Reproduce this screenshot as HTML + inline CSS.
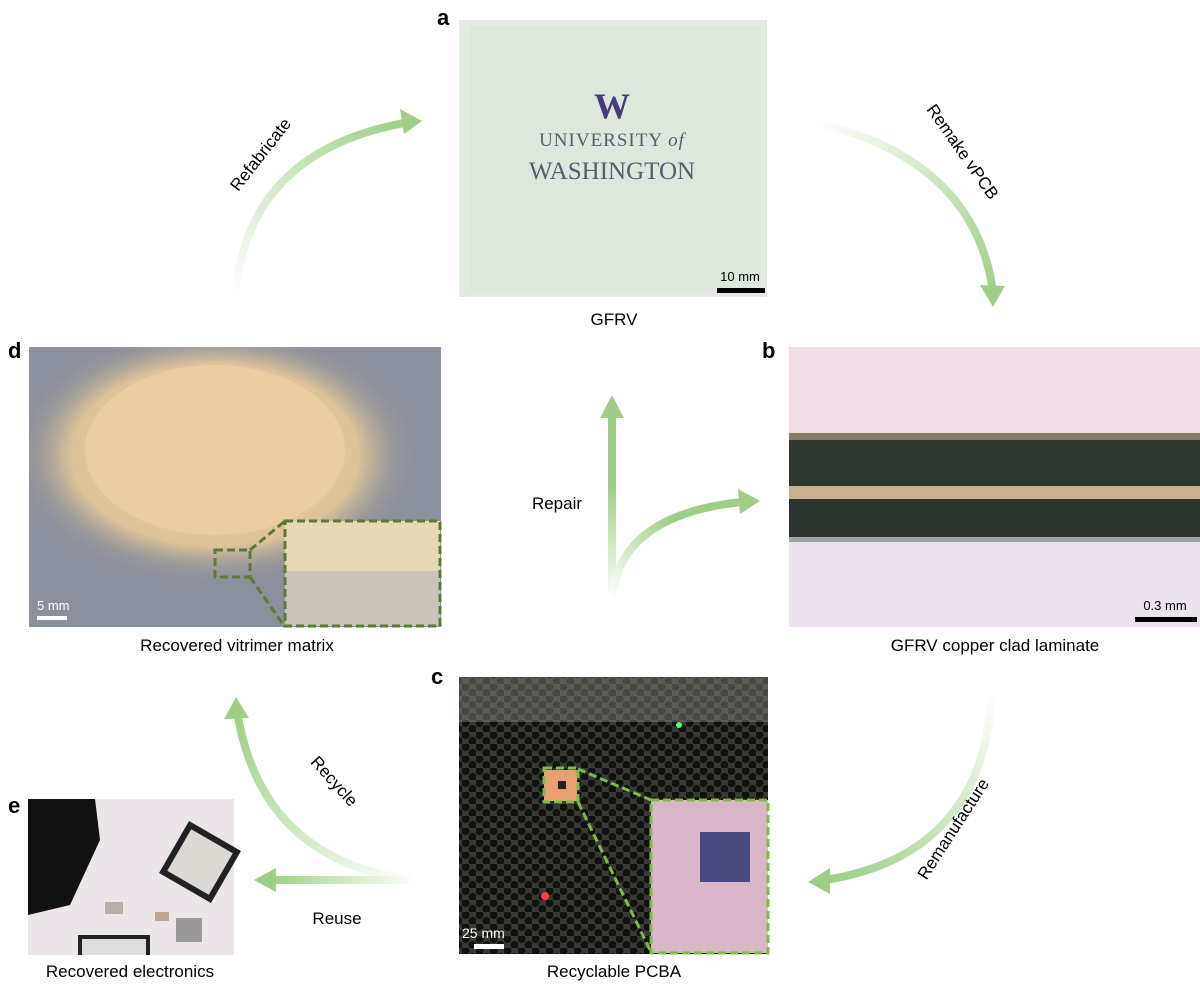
<!DOCTYPE html>
<html><head><meta charset="utf-8"><style>
html,body{margin:0;padding:0;background:#fff;}
svg{display:block;font-family:"Liberation Sans",sans-serif;}
</style></head><body>
<svg width="1200" height="987" viewBox="0 0 1200 987">
<defs>
<linearGradient id="gRef" gradientUnits="userSpaceOnUse" x1="235" y1="300" x2="410" y2="122"><stop offset="0" stop-color="#fff"/><stop offset="1" stop-color="#9fcf86"/></linearGradient>
<linearGradient id="gRem" gradientUnits="userSpaceOnUse" x1="815" y1="122" x2="993" y2="295"><stop offset="0" stop-color="#fff"/><stop offset="1" stop-color="#9fcf86"/></linearGradient>
<linearGradient id="gMan" gradientUnits="userSpaceOnUse" x1="992" y1="690" x2="830" y2="880"><stop offset="0" stop-color="#fff"/><stop offset="1" stop-color="#9fcf86"/></linearGradient>
<linearGradient id="gRec" gradientUnits="userSpaceOnUse" x1="415" y1="880" x2="237" y2="710"><stop offset="0" stop-color="#fff"/><stop offset="1" stop-color="#9fcf86"/></linearGradient>
<linearGradient id="gReu" gradientUnits="userSpaceOnUse" x1="415" y1="880" x2="270" y2="880"><stop offset="0" stop-color="#fff"/><stop offset="1" stop-color="#9fcf86"/></linearGradient>
<linearGradient id="gRep" gradientUnits="userSpaceOnUse" x1="612" y1="600" x2="612" y2="410"><stop offset="0" stop-color="#fff"/><stop offset="0.6" stop-color="#9fcf86"/></linearGradient>
<linearGradient id="gRep2" gradientUnits="userSpaceOnUse" x1="612" y1="600" x2="740" y2="502"><stop offset="0" stop-color="#fff"/><stop offset="0.6" stop-color="#9fcf86"/></linearGradient>
<pattern id="hex" width="14" height="12" patternUnits="userSpaceOnUse"><rect width="14" height="12" fill="#3a3a34"/><circle cx="3.5" cy="3" r="4" fill="#111"/><circle cx="10.5" cy="9" r="4" fill="#111"/></pattern>
<radialGradient id="sand" cx="0.5" cy="0.5" r="0.5"><stop offset="0" stop-color="#f0d6a8"/><stop offset="0.7" stop-color="#dcc498"/><stop offset="1" stop-color="#8a8f9c" stop-opacity="0"/></radialGradient>
<clipPath id="clipD"><rect x="29" y="347" width="412" height="280"/></clipPath>
</defs>

<g><path d="M235,300 Q245,150 410,122" fill="none" stroke="url(#gRef)" stroke-width="8"/><polygon points="422,121 400,109 404,134" fill="#9fcf86"/></g>
<text x="265" y="158" font-size="17" text-anchor="middle" transform="rotate(-52 265 158)">Refabricate</text>
<g><path d="M815,122 Q975,160 993,292" fill="none" stroke="url(#gRem)" stroke-width="8"/><polygon points="993,307 980,285 1005,286" fill="#9fcf86"/></g>
<text x="958" y="155" font-size="17" text-anchor="middle" transform="rotate(55 958 155)">Remake vPCB</text>
<g><path d="M992,690 Q985,855 825,880" fill="none" stroke="url(#gMan)" stroke-width="8"/><polygon points="808,882 830,868 830,894" fill="#9fcf86"/></g>
<text x="958" y="832" font-size="17" text-anchor="middle" transform="rotate(-57 958 832)">Remanufacture</text>
<g><path d="M415,880 Q262,862 237,712" fill="none" stroke="url(#gRec)" stroke-width="8"/><polygon points="236,697 224,719 249,718" fill="#9fcf86"/></g>
<text x="330" y="785" font-size="17" text-anchor="middle" transform="rotate(48 330 785)">Recycle</text>
<g><path d="M415,880 L272,880" fill="none" stroke="url(#gReu)" stroke-width="8"/><polygon points="254,880 276,868 276,892" fill="#9fcf86"/></g>
<text x="337" y="924" font-size="17" text-anchor="middle">Reuse</text>
<g><path d="M612,600 L612,412" fill="none" stroke="url(#gRep)" stroke-width="8"/><polygon points="612,395 600,418 624,418" fill="#9fcf86"/><path d="M612,600 Q618,515 742,502" fill="none" stroke="url(#gRep2)" stroke-width="8"/><polygon points="760,501 738,489 740,514" fill="#9fcf86"/></g>
<text x="557" y="509" font-size="17" text-anchor="middle">Repair</text>

<text x="437" y="25" font-size="22" font-weight="bold">a</text>
<g>
<rect x="459" y="20" width="308" height="277" fill="#e2eae2"/>
<rect x="470" y="26" width="290" height="265" fill="#dde7dc"/>
<text x="612" y="118" font-size="36" font-weight="bold" font-family="Liberation Serif,serif" fill="#4b3a7a" text-anchor="middle">W</text>
<text x="612" y="146" font-size="19" font-family="Liberation Serif,serif" fill="#5a5a70" text-anchor="middle" letter-spacing="1">UNIVERSITY <tspan font-style="italic">of</tspan></text>
<text x="612" y="179" font-size="25" font-family="Liberation Serif,serif" fill="#5a5a70" text-anchor="middle">WASHINGTON</text>
<text x="740" y="281" font-size="13" text-anchor="middle">10 mm</text>
<rect x="717" y="288" width="48" height="5" fill="#000"/>
</g>
<text x="614" y="325" font-size="17" text-anchor="middle">GFRV</text>

<text x="8" y="358" font-size="22" font-weight="bold">d</text>
<g>
<rect x="29" y="347" width="412" height="280" fill="#8c909c"/>
<g clip-path="url(#clipD)">
<ellipse cx="215" cy="455" rx="205" ry="130" fill="url(#sand)"/>
<ellipse cx="215" cy="450" rx="130" ry="85" fill="#e9cf9f"/>
</g>
<rect x="215" y="550" width="35" height="27" fill="none" stroke="#5c7a34" stroke-width="3" stroke-dasharray="8,4"/>
<line x1="250" y1="550" x2="285" y2="521" stroke="#5c7a34" stroke-width="3" stroke-dasharray="8,4"/>
<line x1="250" y1="577" x2="285" y2="627" stroke="#5c7a34" stroke-width="3" stroke-dasharray="8,4"/>
<rect x="285" y="521" width="155" height="105" fill="#c9c4bc"/>
<rect x="285" y="521" width="155" height="50" fill="#e7d8b6"/>
<rect x="285" y="521" width="155" height="105" fill="none" stroke="#5c7a34" stroke-width="3" stroke-dasharray="8,4"/>
<text x="37" y="610" font-size="13" fill="#fff">5 mm</text>
<rect x="37" y="616" width="30" height="4" fill="#fff"/>
</g>
<text x="237" y="651" font-size="17" text-anchor="middle">Recovered vitrimer matrix</text>

<text x="762" y="358" font-size="22" font-weight="bold">b</text>
<g>
<rect x="789" y="347" width="411" height="90" fill="#efdee6"/>
<rect x="789" y="540" width="411" height="87" fill="#ebe2ee"/>
<rect x="789" y="433" width="411" height="8" fill="#8a7a6a"/>
<rect x="789" y="440" width="411" height="48" fill="#2e3630"/>
<rect x="789" y="486" width="411" height="13" fill="#c8b090"/>
<rect x="789" y="499" width="411" height="40" fill="#2c3430"/>
<rect x="789" y="537" width="411" height="5" fill="#9aa4a4"/>
<text x="1165" y="610" font-size="13" text-anchor="middle">0.3 mm</text>
<rect x="1135" y="617" width="62" height="5" fill="#000"/>
</g>
<text x="995" y="651" font-size="17" text-anchor="middle">GFRV copper clad laminate</text>

<text x="431" y="684" font-size="22" font-weight="bold">c</text>
<g>
<rect x="459" y="677" width="309" height="277" fill="url(#hex)"/>
<rect x="459" y="677" width="309" height="45" fill="#8a8a80" opacity="0.45"/>
<rect x="544" y="770" width="33" height="31" fill="#e8a070"/>
<rect x="558" y="781" width="8" height="8" fill="#222"/>
<rect x="544" y="768" width="34" height="34" fill="none" stroke="#7cbc44" stroke-width="3" stroke-dasharray="8,4"/>
<line x1="578" y1="769" x2="651" y2="800" stroke="#7cbc44" stroke-width="3" stroke-dasharray="8,4"/>
<line x1="578" y1="802" x2="651" y2="952" stroke="#7cbc44" stroke-width="3" stroke-dasharray="8,4"/>
<rect x="651" y="800" width="117" height="153" fill="#d8b8c8"/>
<rect x="700" y="832" width="50" height="50" fill="#4a4a80"/>
<rect x="651" y="800" width="117" height="153" fill="none" stroke="#7cbc44" stroke-width="3" stroke-dasharray="8,4"/>
<circle cx="545" cy="896" r="4" fill="#ff4040"/>
<circle cx="679" cy="725" r="3" fill="#50ff70"/>
<text x="462" y="938" font-size="14" fill="#fff">25 mm</text>
<rect x="474" y="944" width="30" height="5" fill="#fff"/>
</g>
<text x="614" y="977" font-size="17" text-anchor="middle">Recyclable PCBA</text>

<text x="8" y="813" font-size="22" font-weight="bold">e</text>
<g>
<rect x="28" y="799" width="206" height="156" fill="#ece6ea"/>
<polygon points="28,799 95,799 100,840 70,905 28,915" fill="#111"/>
<rect x="170" y="832" width="60" height="60" fill="#222" transform="rotate(30 200 862)"/>
<rect x="176" y="838" width="48" height="48" fill="#dcd8d4" transform="rotate(30 200 862)"/>
<rect x="78" y="935" width="72" height="20" fill="#222"/>
<rect x="82" y="939" width="64" height="16" fill="#ddd"/>
<rect x="176" y="918" width="26" height="24" fill="#999"/>
<rect x="105" y="902" width="18" height="12" fill="#b8b0a8"/>
<rect x="155" y="912" width="14" height="9" fill="#c0a890"/>
</g>
<text x="130" y="977" font-size="17" text-anchor="middle">Recovered electronics</text>
</svg>
</body></html>
